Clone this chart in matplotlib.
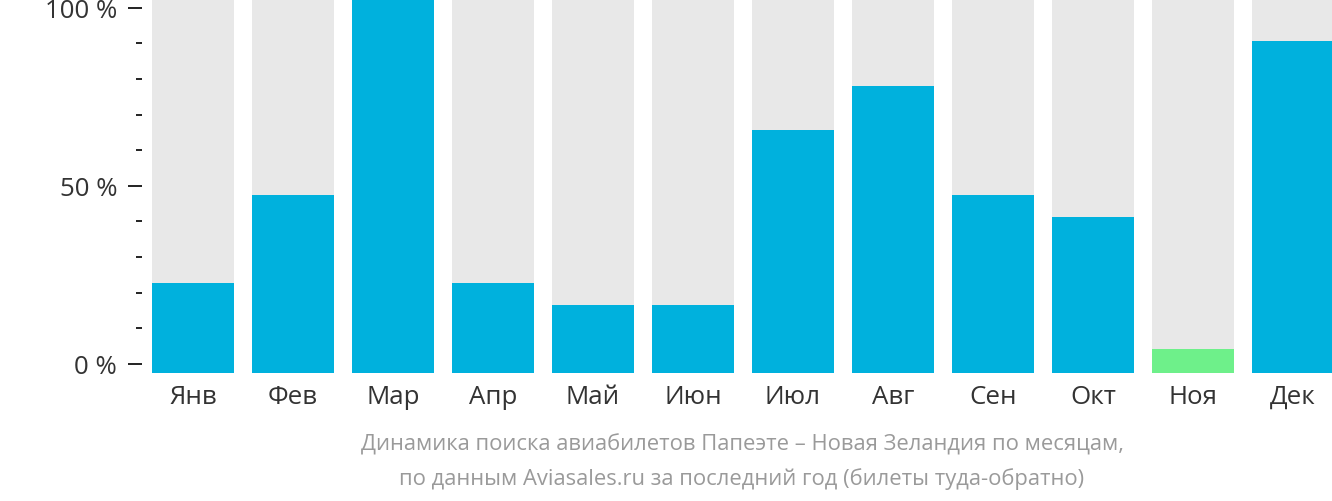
import matplotlib.pyplot as plt
import numpy as np

plt.rcParams['font.family'] = ['Open Sans', 'DejaVu Sans']

months = ['Янв', 'Фев', 'Мар', 'Апр', 'Май', 'Июн',
          'Июл', 'Авг', 'Сен', 'Окт', 'Ноя', 'Дек']
values = [24.0, 47.5, 100, 24.0, 18.1, 18.1, 65.0, 76.8, 47.5, 41.6, 6.3, 88.7]
lowest = 'Ноя'
y_ticks = [0, 50, 100]
y_ticklabels = ['0 %', '50 %', '100 %']
title = ('Динамика поиска авиабилетов Папеэте – Новая Зеландия по месяцам,\n'
         'по данным Aviasales.ru за последний год (билеты туда-обратно)')

W, H = 1332, 502
fig = plt.figure(figsize=(W / 100, H / 100), dpi=100, facecolor='white')
# axes in pixel terms: left 142, right 1332, top 0, bottom 374
ax = fig.add_axes([142 / W, 1 - 374 / H, (1332 - 142) / W, 374 / H])

x = np.arange(len(months))
colors = ['#6ef08a' if m == lowest else '#00b1dd' for m in months]
ax.bar(x, [100] * len(months), width=0.82, color='#e8e8e8', zorder=1)
ax.bar(x, values, width=0.82, color=colors, zorder=2)

ax.set_xlim(-0.51, 11.39)
ax.set_ylim(0, 100)
ax.set_xticks(x)
ax.set_xticklabels(months, fontsize=18.6, color='#333333')
ax.tick_params(axis='x', length=0, pad=8)
ax.set_yticks([])
for s in ax.spines.values():
    s.set_visible(False)

# percent scale for the labels (its 0 and 100 sit a bit inside the bars)
ax2 = ax.twinx()
ax2.yaxis.tick_left()
ax2.set_ylim(-2.53, 102.44)
ax2.set_yticks(y_ticks)
ax2.set_yticklabels(y_ticklabels, fontsize=18.6, color='#333333')
ax2.set_yticks(np.arange(0, 101, 10), minor=True)
ax2.tick_params(axis='y', which='major', length=10, width=1.4, color='#222222', pad=8)
ax2.tick_params(axis='y', which='minor', length=4.3, width=1.4, color='#222222')
for s in ax2.spines.values():
    s.set_visible(False)

fig.text(742 / W, 1 - 462 / H, title, ha='center', va='center',
         fontsize=15.8, color='#9a9a9a', linespacing=1.72)

plt.savefig('out.png', dpi=100)
